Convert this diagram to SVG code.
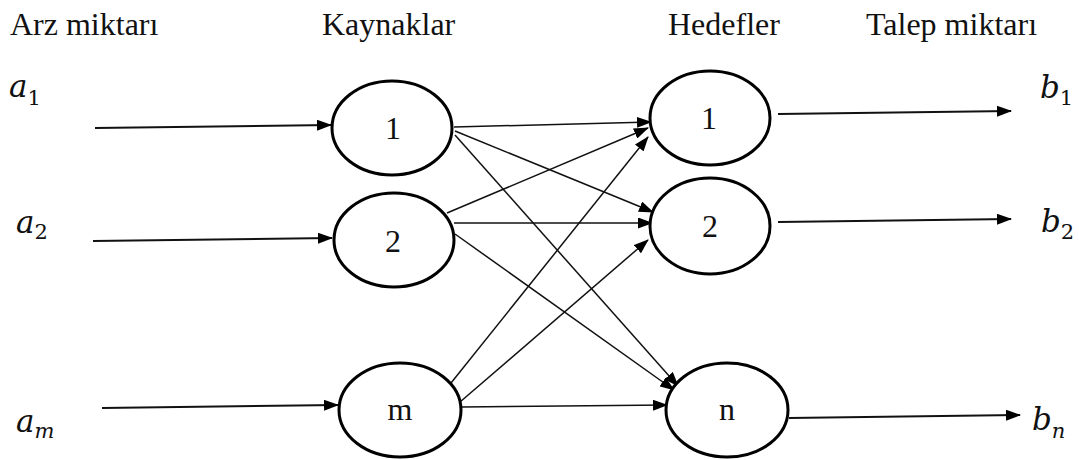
<svg xmlns="http://www.w3.org/2000/svg" width="1079" height="460" viewBox="0 0 1079 460">
  <style>
    .bg { fill: #ffffff; }
    .node ellipse { fill: #ffffff; stroke: #000000; stroke-width: 3; }
    .node text { font-family: "Liberation Serif", "DejaVu Serif", serif; font-size: 32px; fill: #111111; text-anchor: middle; }
    .head { font-family: "Liberation Serif", "DejaVu Serif", serif; font-size: 32px; fill: #111111; }
    .math { font-family: "DejaVu Serif", "Liberation Serif", serif; font-style: italic; font-size: 31px; fill: #111111; }
    .math .sub { font-style: normal; font-size: 21px; }
    .math .subi { font-style: italic; font-size: 21px; }
    .flow line { stroke: #111111; stroke-width: 2; marker-end: url(#arrow); }
    .cross line { stroke: #111111; stroke-width: 1.5; marker-end: url(#arrow); }
  </style>
  <defs>
    <marker id="arrow" viewBox="0 0 15 11" refX="14" refY="5.5" markerWidth="15" markerHeight="11" markerUnits="userSpaceOnUse" orient="auto">
      <path d="M0,0 L15,5.5 L0,11 Z" fill="#000000"/>
    </marker>
  </defs>
  <rect class="bg" x="0" y="0" width="1079" height="460"/>

  <!-- column headings -->
  <g id="headings">
    <text class="head" x="10" y="35">Arz miktarı</text>
    <text class="head" x="322" y="35">Kaynaklar</text>
    <text class="head" x="668" y="35">Hedefler</text>
    <text class="head" x="866" y="35">Talep miktarı</text>
  </g>

  <!-- supply and demand quantities -->
  <g id="quantities">
    <text class="math" x="9" y="97">a<tspan class="sub" dy="8">1</tspan></text>
    <text class="math" x="16" y="233">a<tspan class="sub" dy="6">2</tspan></text>
    <text class="math" x="16" y="432">a<tspan class="subi" dy="6">m</tspan></text>
    <text class="math" x="1040" y="98">b<tspan class="sub" dy="7">1</tspan></text>
    <text class="math" x="1041" y="232">b<tspan class="sub" dy="7">2</tspan></text>
    <text class="math" x="1032" y="430">b<tspan class="subi" dy="8">n</tspan></text>
  </g>

  <!-- connectors -->
  <g id="connectors">
    <g class="flow">
      <line x1="95" y1="128" x2="331" y2="125"/>
      <line x1="93" y1="241" x2="332" y2="238"/>
      <line x1="102" y1="408" x2="338" y2="405"/>
      <line x1="778" y1="114" x2="1011" y2="111"/>
      <line x1="778" y1="222" x2="1011" y2="219"/>
      <line x1="789" y1="418" x2="1020" y2="415"/>
    </g>
    <g class="cross">
      <line x1="454" y1="127" x2="651" y2="122"/>
      <line x1="455" y1="131" x2="653" y2="212"/>
      <line x1="455" y1="135" x2="678" y2="386"/>
      <line x1="447" y1="213" x2="648" y2="128"/>
      <line x1="454" y1="223" x2="652" y2="223"/>
      <line x1="455" y1="234" x2="674" y2="390"/>
      <line x1="451" y1="383" x2="648" y2="137"/>
      <line x1="460" y1="402" x2="648" y2="240"/>
      <line x1="462" y1="407" x2="667" y2="405"/>
    </g>
  </g>

  <!-- sources -->
  <g id="source-1" class="node">
    <ellipse cx="392" cy="128" rx="60" ry="47"/>
    <text x="393" y="139">1</text>
  </g>
  <g id="source-2" class="node">
    <ellipse cx="394" cy="240" rx="60" ry="47"/>
    <text x="393" y="252">2</text>
  </g>
  <g id="source-m" class="node">
    <ellipse cx="400" cy="410" rx="61" ry="47"/>
    <text x="400" y="420">m</text>
  </g>

  <!-- destinations -->
  <g id="target-1" class="node">
    <ellipse cx="710" cy="118" rx="60" ry="47"/>
    <text x="709" y="129">1</text>
  </g>
  <g id="target-2" class="node">
    <ellipse cx="710" cy="226" rx="60" ry="48"/>
    <text x="710" y="237">2</text>
  </g>
  <g id="target-n" class="node">
    <ellipse cx="727" cy="410" rx="61" ry="47"/>
    <text x="727" y="420">n</text>
  </g>
</svg>
